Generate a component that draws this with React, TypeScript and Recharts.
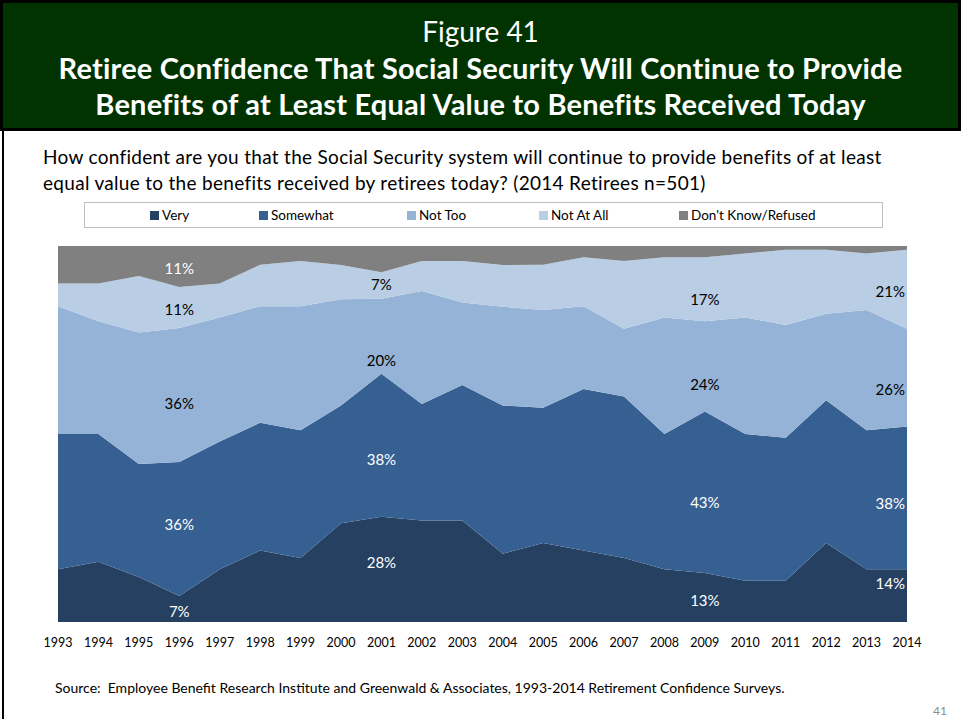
import React from "react";
import { Area, AreaChart, ReferenceDot, XAxis, YAxis } from "recharts";

const years = ["1993", "1994", "1995", "1996", "1997", "1998", "1999", "2000", "2001", "2002", "2003", "2004", "2005", "2006", "2007", "2008", "2009", "2010", "2011", "2012", "2013", "2014"];
const very = [14, 16, 12, 7, 14, 19, 17, 26, 28, 27, 27, 18, 21, 19, 17, 14, 13, 11, 11, 21, 14, 14];
const somewhat = [36, 34, 30, 36, 34, 34, 34, 31, 38, 31, 36, 39, 36, 43, 43, 36, 43, 39, 38, 38, 37, 38];
const notToo = [34, 30, 35, 36, 33, 31, 33, 28, 20, 30, 22, 26, 26, 22, 18, 31, 24, 31, 30, 23, 32, 26];
const notAtAll = [6, 10, 15, 11, 9, 11, 12, 9, 7, 8, 11, 11, 12, 13, 18, 16, 17, 17, 20, 17, 15, 21];
const dontKnow = [10, 10, 8, 11, 10, 5, 4, 5, 7, 4, 4, 5, 5, 3, 4, 3, 3, 2, 1, 1, 2, 1];

// which years carry data labels, and how many series (from the bottom) are labelled
const labelYears = ["1996", "2001", "2009", "2014"];
const labelCount = [5, 4, 4, 4];
// small vertical nudges (px) so labels sit where the slide put them
const labelNudge = [
  [3, -4, 9, 2, 2],
  [-7, 14, 24, -1],
  [3, 10, 18, 10],
  [-12, 6, 12, 2],
];

const series = [
  { key: "very", name: "Very", values: very, color: "#254061", text: "#ffffff" },
  { key: "somewhat", name: "Somewhat", values: somewhat, color: "#376092", text: "#ffffff" },
  { key: "notToo", name: "Not Too", values: notToo, color: "#95b3d7", text: "#000000" },
  { key: "notAtAll", name: "Not At All", values: notAtAll, color: "#b9cde5", text: "#000000" },
  { key: "dontKnow", name: "Don't Know/Refused", values: dontKnow, color: "#808080", text: "#ffffff" },
];

const data = years.map((year, i) => {
  const row: Record<string, string | number> = { year };
  series.forEach((s) => (row[s.key] = s.values[i]));
  return row;
});

// mid point of each labelled band, as a share of the column total (y axis is 0..1 with expand)
const labels = labelYears.flatMap((year, j) => {
  const i = years.indexOf(year);
  const total = series.reduce((sum, s) => sum + s.values[i], 0);
  let below = 0;
  return series.slice(0, labelCount[j]).map((s, k) => {
    const v = s.values[i];
    const mid = (below + v / 2) / total;
    below += v;
    return { year, mid, text: `${v}%`, color: s.text, last: i === years.length - 1, dy: labelNudge[j][k] };
  });
});

const font = "Lato, 'Open Sans', sans-serif";

export default function App() {
  return (
    <div style={{ position: "absolute", left: 0, top: 0, width: 961, height: 719, background: "#fff", fontFamily: font, overflow: "hidden" }}>
      <div style={{ position: "absolute", left: 2, top: 0, width: 2, height: 719, background: "#000" }} />
      <div style={{ position: "absolute", left: 0, top: 0, width: 955, height: 125, background: "#003300", border: "3px solid #000", color: "#fff", textAlign: "center" }}>
        <div style={{ fontSize: 28, lineHeight: "30px", marginTop: 13 }}>Figure 41</div>
        <div style={{ fontSize: 29, fontWeight: 700, lineHeight: "36px", marginTop: 4, letterSpacing: 0.2, whiteSpace: "nowrap" }}>
          Retiree Confidence That Social Security Will Continue to Provide
          <br />
          Benefits of at Least Equal Value to Benefits Received Today
        </div>
      </div>

      <div style={{ position: "absolute", left: 43, top: 144, width: 910, fontSize: 19, lineHeight: "26px", letterSpacing: 0.3, color: "#000", whiteSpace: "nowrap" }}>
        How confident are you that the Social Security system will continue to provide benefits of at least
        <br />
        equal value to the benefits received by retirees today? (2014 Retirees n=501)
      </div>

      <div style={{ position: "absolute", left: 84, top: 202, width: 797, height: 24, border: "1px solid #bfbfbf", fontSize: 13.5, color: "#000" }}>
        {series.map((s, i) => (
          <div key={s.key} style={{ position: "absolute", left: [65, 174, 322, 454, 594][i], top: 4, display: "flex", alignItems: "center", whiteSpace: "nowrap" }}>
            <span style={{ display: "inline-block", width: 9, height: 9, background: s.color, marginRight: 3 }} />
            {s.name}
          </div>
        ))}
      </div>

      <div style={{ position: "absolute", left: 0, top: 0 }}>
        <AreaChart width={961} height={719} data={data} stackOffset="expand" margin={{ top: 246, right: 54, bottom: 67, left: 58 }}>
          <XAxis dataKey="year" type="category" height={30} tickSize={0} tickMargin={16} axisLine={false} tickLine={false} interval={0} tick={{ fontSize: 12.5, fill: "#000", fontFamily: font }} />
          <YAxis hide domain={[0, 1]} />
          {series.map((s) => (
            <Area key={s.key} dataKey={s.key} name={s.name} stackId="a" type="linear" stroke="none" fill={s.color} fillOpacity={1} isAnimationActive={false} />
          ))}
          {labels.map((l, i) => (
            <ReferenceDot
              key={i}
              x={l.year}
              y={l.mid}
              r={0}
              fill="none"
              stroke="none"
              label={{ value: l.text, position: l.last ? "left" : "center", offset: 2, dy: l.dy, fill: l.color, fontSize: 15, fontFamily: font }}
            />
          ))}
        </AreaChart>
      </div>

      <div style={{ position: "absolute", left: 55, top: 679, fontSize: 14, color: "#000", whiteSpace: "nowrap" }}>
        Source:&nbsp; Employee Benefit Research Institute and Greenwald &amp; Associates, 1993-2014 Retirement Confidence Surveys.
      </div>
      <div style={{ position: "absolute", left: 933, top: 703, fontSize: 12, color: "#8c8c8c" }}>41</div>
    </div>
  );
}
